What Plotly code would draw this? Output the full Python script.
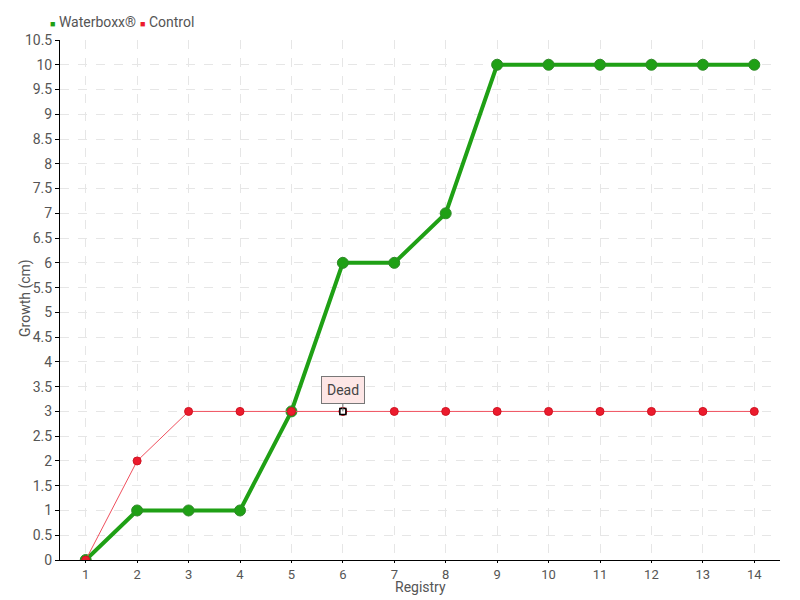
import plotly.graph_objects as go

registry = list(range(1, 15))
waterboxx = [0, 1, 1, 1, 3, 6, 6, 7, 10, 10, 10, 10, 10, 10]
control = [0, 2, 3, 3, 3, 3, 3, 3, 3, 3, 3, 3, 3, 3]
dead_index = 5  # registry 6
series_names = ["Waterboxx®", "Control"]
x_title = "Registry"
y_title = "Growth (cm)"

green = "#1fa015"
red = "#ec1b2d"
font_family = "Roboto, sans-serif"
text_color = "#555"

fig = go.Figure()
fig.add_trace(go.Scatter(
    x=registry, y=waterboxx, name=series_names[0], mode="lines+markers", showlegend=False,
    line=dict(color=green, width=4),
    marker=dict(size=11, color=green, line=dict(color="#2f8a28", width=1)),
))
fig.add_trace(go.Scatter(
    x=registry, y=control, name=series_names[1], mode="lines+markers", showlegend=False,
    line=dict(color="#f0505e", width=1),
    marker=dict(size=8, color=red, line=dict(color="#d01322", width=1)),
))
# dead marker
fig.add_trace(go.Scatter(
    x=[registry[dead_index]], y=[control[dead_index]], mode="markers", showlegend=False,
    marker=dict(size=6, color="white", symbol="square", line=dict(color="black", width=1.5)),
    hoverinfo="skip",
))

# legend drawn as text with small coloured squares
legend_x = [48, 138]
for name, col, lx in zip(series_names, [green, red], legend_x):
    fig.add_annotation(
        xref="paper", yref="paper",
        x=(lx - 60) / 720, y=1 + (40 - 22) / 520, xanchor="left", yanchor="middle",
        text=f'<span style="color:{col};font-size:9px">■</span> {name}',
        showarrow=False, font=dict(family=font_family, size=14, color=text_color),
    )

# axis titles
fig.add_annotation(
    xref="paper", yref="paper", x=0.5, y=-(587 - 560) / 520, xanchor="center", yanchor="middle",
    text=x_title, showarrow=False, font=dict(family=font_family, size=14, color=text_color),
)
fig.add_annotation(
    xref="paper", yref="paper", x=(25 - 60) / 720, y=(560 - 298) / 520, xanchor="center", yanchor="middle",
    text=y_title, textangle=-90, showarrow=False, font=dict(family=font_family, size=14, color=text_color),
)

fig.add_annotation(
    x=registry[dead_index], y=control[dead_index], text="Dead",
    showarrow=True, arrowhead=0, arrowwidth=1, arrowcolor="#777",
    ax=0, ay=-21, standoff=0,
    bgcolor="#fde6e6", bordercolor="#777", borderwidth=1, borderpad=5,
    font=dict(family=font_family, size=14, color="#444"),
)

fig.update_layout(
    width=800, height=600,
    paper_bgcolor="white", plot_bgcolor="white",
    margin=dict(l=60, r=20, t=40, b=40, autoexpand=False),
    font=dict(family=font_family, size=14, color=text_color),
    showlegend=False,
    xaxis=dict(
        range=[0.5, 14.5], tickmode="array", tickvals=registry, ticktext=[str(r) for r in registry],
        tickfont=dict(size=13),
        showgrid=True, gridcolor="#e6e6e6", griddash="dash", gridwidth=1,
        showline=True, linecolor="black", linewidth=1, ticks="outside", ticklen=2, tickcolor="black",
        zeroline=False, automargin=False,
    ),
    yaxis=dict(
        range=[0, 10.5], dtick=0.5, tick0=0,
        showgrid=True, gridcolor="#e6e6e6", griddash="dash", gridwidth=1,
        showline=True, linecolor="black", linewidth=1, ticks="outside", ticklen=4, tickcolor="black",
        zeroline=False, automargin=False,
    ),
)

fig.write_html("out.html", config={"displayModeBar": False},
               post_script="document.body.style.margin='0px';")
